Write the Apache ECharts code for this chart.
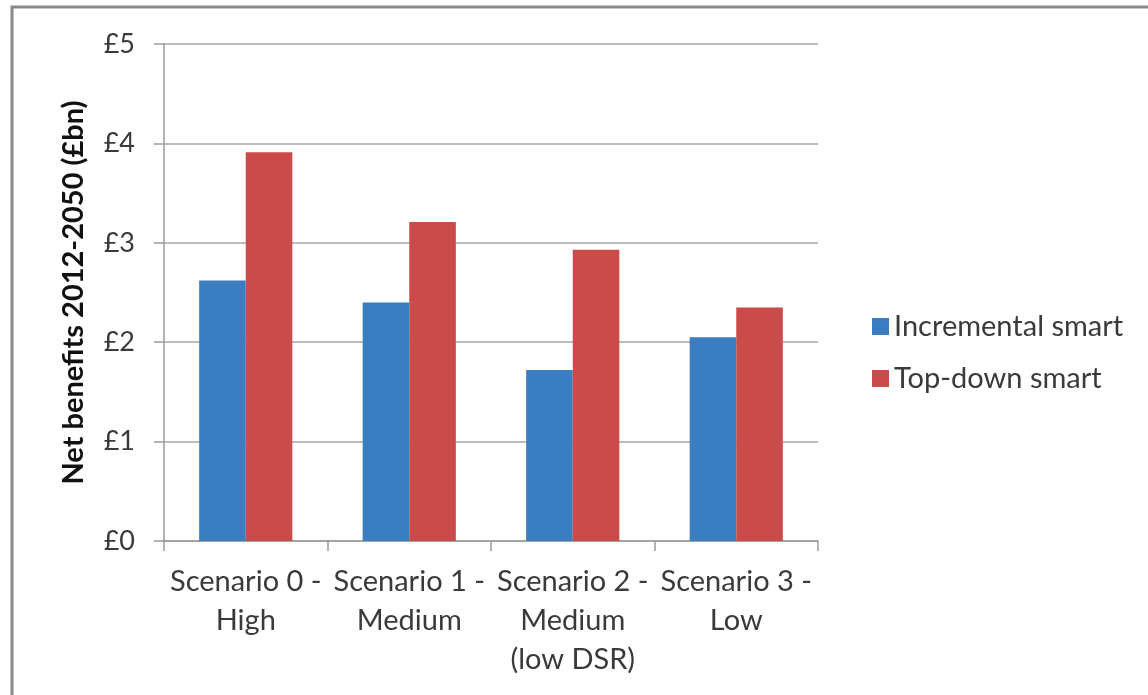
<!DOCTYPE html>
<html>
<head>
<meta charset="utf-8">
<script src="https://cdn.jsdelivr.net/npm/echarts@6/dist/echarts.min.js"></script>
<style>
  html, body { margin: 0; padding: 0; background: #fff; }
  #chart { width: 1148px; height: 695px; }
</style>
</head>
<body>
<div id="chart"></div>
<script>
// Scenario categories (multi-line labels)
const categories = [
  'Scenario 0 -\nHigh',
  'Scenario 1 -\nMedium',
  'Scenario 2 -\nMedium\n(low DSR)',
  'Scenario 3 -\nLow'
];
// Net benefits 2012-2050, £bn
const incrementalSmart = [2.62, 2.40, 1.72, 2.05];
const topDownSmart = [3.91, 3.21, 2.93, 2.35];
// Value axis ticks
const yTicks = [0, 1, 2, 3, 4, 5];

const textColor = '#3a3a3a';
const font = 'Lato, "Open Sans", sans-serif';

const chart = echarts.init(document.getElementById('chart'));
chart.setOption({
  animation: false,
  backgroundColor: '#ffffff',
  graphic: [{
    type: 'rect',
    shape: { x: 12, y: 7, width: 1200, height: 760 },
    style: { fill: 'none', stroke: '#8a8a8a', lineWidth: 3 },
    silent: true
  }],
  grid: { left: 164, right: 330, top: 44, bottom: 154, containLabel: false },
  legend: {
    orient: 'vertical',
    left: 867,
    top: 306,
    itemWidth: 17,
    itemHeight: 17,
    itemGap: 21,
    icon: 'rect',
    textStyle: { fontFamily: font, fontSize: 29, lineHeight: 31, color: textColor },
    data: ['Incremental smart', 'Top-down smart']
  },
  xAxis: {
    type: 'category',
    data: categories,
    axisLine: { lineStyle: { color: '#9a9a9a', width: 1.5 } },
    axisTick: { show: true, length: 10, alignWithLabel: false, lineStyle: { color: '#9a9a9a', width: 1.5 } },
    axisLabel: {
      interval: 0,
      margin: 21,
      fontFamily: font,
      fontSize: 29,
      lineHeight: 39,
      color: textColor
    }
  },
  yAxis: {
    type: 'value',
    min: yTicks[0],
    max: yTicks[yTicks.length - 1],
    interval: 1,
    name: 'Net benefits 2012-2050 (£bn)',
    nameLocation: 'middle',
    nameRotate: 90,
    nameGap: 76,
    nameTextStyle: { fontFamily: font, fontSize: 29, fontWeight: 'bold', color: '#111' },
    axisLine: { show: true, lineStyle: { color: '#9a9a9a', width: 1.5 } },
    axisTick: { show: true, length: 10, lineStyle: { color: '#9a9a9a', width: 1.5 } },
    splitLine: { show: true, lineStyle: { color: '#a6a6a6', width: 1.5 } },
    axisLabel: {
      margin: 29,
      fontFamily: font,
      fontSize: 27,
      color: textColor,
      formatter: v => '£' + v
    }
  },
  series: [
    {
      name: 'Incremental smart',
      type: 'bar',
      data: incrementalSmart,
      itemStyle: { color: '#3b7dc1' },
      barGap: '0%',
      barCategoryGap: '43%'
    },
    {
      name: 'Top-down smart',
      type: 'bar',
      data: topDownSmart,
      itemStyle: { color: '#c94c4b' },
      barGap: '0%',
      barCategoryGap: '43%'
    }
  ]
});
</script>
</body>
</html>
